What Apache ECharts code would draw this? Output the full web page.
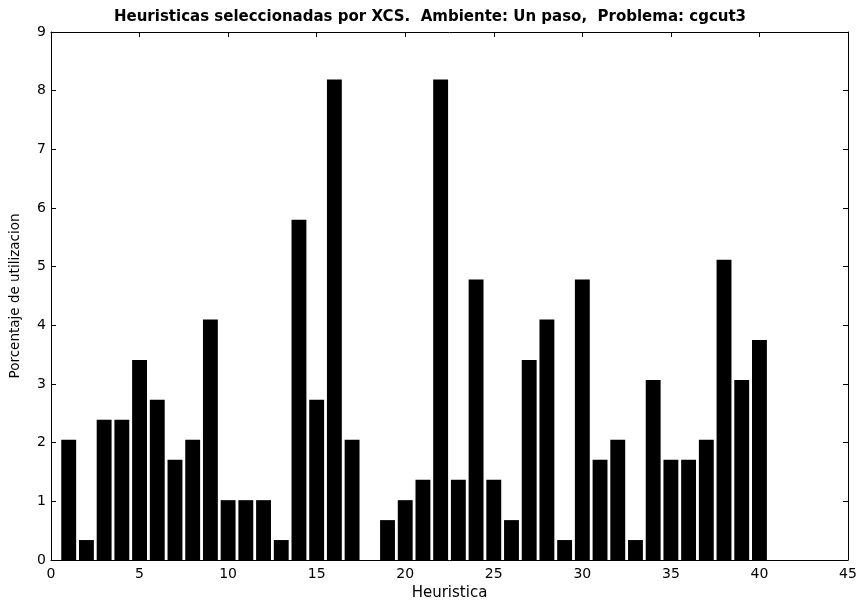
<!DOCTYPE html>
<html>
<head>
<meta charset="utf-8">
<script src="https://cdn.jsdelivr.net/npm/echarts@6/dist/echarts.min.js"></script>
<style>html,body{margin:0;padding:0;background:#fff}#c{width:860px;height:601px}</style>
</head>
<body>
<div id="c"></div>
<script>
const heuristics = [1,2,3,4,5,6,7,8,9,10,11,12,13,14,15,16,17,18,19,20,21,22,23,24,25,26,27,28,29,30,31,32,33,34,35,36,37,38,39,40];
const usage = [2.05,0.34,2.39,2.39,3.41,2.73,1.71,2.05,4.10,1.02,1.02,1.02,0.34,5.80,2.73,8.19,2.05,0,0.68,1.02,1.37,8.19,1.37,4.78,1.37,0.68,3.41,4.10,0.34,4.78,1.71,2.05,0.34,3.07,1.71,1.71,2.05,5.12,3.07,3.75];
const xTicks = [0,5,10,15,20,25,30,35,40,45];
const yTicks = [0,1,2,3,4,5,6,7,8,9];

const font = '"DejaVu Sans", "Liberation Sans", Arial, sans-serif';
const chart = echarts.init(document.getElementById('c'));
const axisLine = {show:true, onZero:false, lineStyle:{color:'#000', width:1}};
const tick = {show:true, inside:true, length:5, lineStyle:{color:'#000'}};
chart.setOption({
  animation:false,
  title:{text:'Heuristicas seleccionadas por XCS.  Ambiente: Un paso,  Problema: cgcut3', left:'center', top:5,
    textStyle:{fontFamily:font, fontSize:15, fontWeight:'bold', color:'#000'}},
  grid:{left:51, right:12, top:32, bottom:41, containLabel:false, outerBoundsMode:'none'},
  xAxis:[
    {type:'value', min:xTicks[0], max:xTicks[xTicks.length-1], interval:5, position:'bottom',
     name:'Heuristica', nameLocation:'middle', nameGap:23,
     nameTextStyle:{fontFamily:font, fontSize:15, color:'#000'},
     axisLine, axisTick:tick, splitLine:{show:false},
     axisLabel:{fontFamily:font, fontSize:14, color:'#000', margin:7}},
    {type:'value', min:0, max:45, interval:5, position:'top',
     axisLine, axisTick:tick, splitLine:{show:false}, axisLabel:{show:false}}
  ],
  yAxis:[
    {type:'value', min:yTicks[0], max:yTicks[yTicks.length-1], interval:1, position:'left',
     name:'Porcentaje de utilizacion', nameLocation:'middle', nameGap:29,
     nameTextStyle:{fontFamily:font, fontSize:13.5, color:'#000'},
     axisLine, axisTick:tick, splitLine:{show:false},
     axisLabel:{fontFamily:font, fontSize:14, color:'#000', margin:5}},
    {type:'value', min:0, max:9, interval:1, position:'right',
     axisLine, axisTick:tick, splitLine:{show:false}, axisLabel:{show:false}}
  ],
  series:[{
    type:'bar', xAxisIndex:0, yAxisIndex:0,
    data: heuristics.map((h,i)=>[h, usage[i]]),
    barWidth:'84%',
    itemStyle:{color:'#000'}
  }]
});
</script>
</body>
</html>
